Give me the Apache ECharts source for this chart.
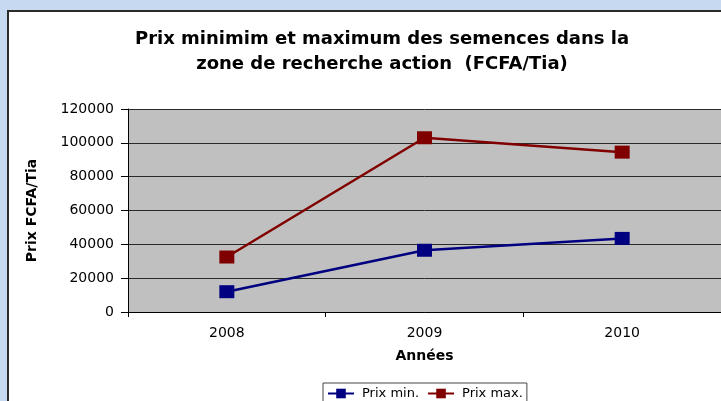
<!DOCTYPE html>
<html>
<head>
<meta charset="utf-8">
<script src="https://cdn.jsdelivr.net/npm/echarts@6/dist/echarts.min.js"></script>
<style>
  html, body { margin: 0; padding: 0; background: #C6D9F1; }
  #chart { width: 721px; height: 401px; }
</style>
</head>
<body>
<div id="chart"></div>
<script>
var years = ['2008', '2009', '2010'];
var prixMin = [12000, 36500, 43500];
var prixMax = [32500, 103000, 94500];

var chart = echarts.init(document.getElementById('chart'));
var font = 'DejaVu Sans, sans-serif';

option = {
    backgroundColor: '#C6D9F1',
    animation: false,
    graphic: [{
        type: 'rect',
        z: -10,
        shape: { x: 8, y: 11, width: 740, height: 420 },
        style: { fill: '#ffffff', stroke: '#2b2b2b', lineWidth: 2 }
    }],
    title: {
        text: 'Prix minimim et maximum des semences dans la\nzone de recherche action  (FCFA/Tia)',
        left: 377,
        top: 22,
        textAlign: 'center',
        textStyle: {
            fontFamily: font,
            fontSize: 18,
            fontWeight: 'bold',
            color: '#000',
            lineHeight: 25
        }
    },
    legend: {
        left: 323,
        top: 383,
        padding: [4, 4, 4, 4],
        borderColor: '#444',
        borderWidth: 1,
        borderRadius: 0,
        itemWidth: 26,
        itemHeight: 12,
        itemGap: 8,
        textStyle: { fontFamily: font, fontSize: 13, color: '#000', padding: [0, 0, 0, 3] },
        data: ['Prix min.', 'Prix max.']
    },
    grid: {
        left: 128,
        top: 109,
        right: -2,
        bottom: 89,
        show: true,
        backgroundColor: '#C0C0C0',
        borderWidth: 0
    },
    xAxis: {
        type: 'category',
        data: years,
        boundaryGap: true,
        name: 'Années',
        nameLocation: 'middle',
        nameGap: 37,
        nameTextStyle: { fontFamily: font, fontSize: 14, fontWeight: 'bold', color: '#000' },
        axisLine: { lineStyle: { color: '#000', width: 1 } },
        axisTick: { show: true, length: 5, lineStyle: { color: '#000' } },
        axisLabel: { fontFamily: font, fontSize: 14, color: '#000', margin: 14 },
        splitLine: { show: false }
    },
    yAxis: {
        type: 'value',
        min: 0,
        max: 120000,
        interval: 20000,
        name: 'Prix FCFA/Tia',
        nameLocation: 'middle',
        nameRotate: 90,
        nameGap: 89,
        nameTextStyle: { fontFamily: font, fontSize: 14, fontWeight: 'bold', color: '#000' },
        axisLine: { show: true, lineStyle: { color: '#000', width: 1 } },
        axisTick: { show: true, length: 7, lineStyle: { color: '#000' } },
        axisLabel: {
            fontFamily: font, fontSize: 14, color: '#000', margin: 14,
            formatter: function (v) { return String(v); }
        },
        splitLine: { show: true, lineStyle: { color: '#2a2a2a', width: 1 } }
    },
    series: [
        {
            name: 'Prix min.',
            type: 'line',
            data: prixMin,
            symbol: 'rect',
            symbolSize: [15, 13],
            itemStyle: { color: '#000080' },
            lineStyle: { color: '#000080', width: 2.5 }
        },
        {
            name: 'Prix max.',
            type: 'line',
            data: prixMax,
            symbol: 'rect',
            symbolSize: [15, 13],
            itemStyle: { color: '#800000' },
            lineStyle: { color: '#800000', width: 2.5 }
        }
    ]
};

chart.setOption(option);
</script>
</body>
</html>
